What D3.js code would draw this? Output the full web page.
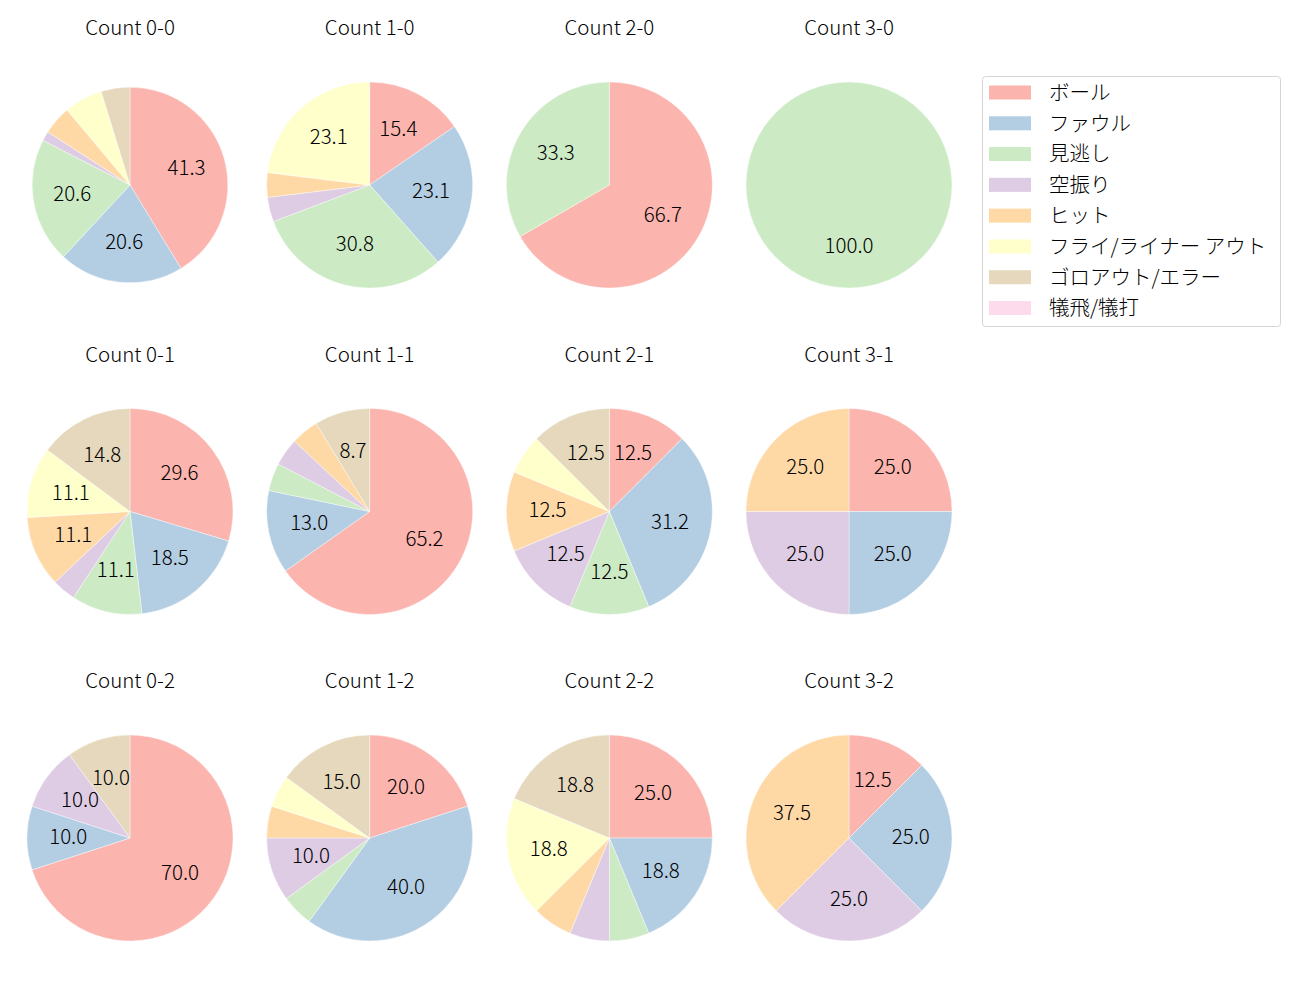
<!DOCTYPE html>
<html>
<head>
<meta charset="utf-8">
<script src="https://cdn.jsdelivr.net/npm/d3@7"></script>
<style>
  html, body { margin: 0; padding: 0; background: #fff; }
  svg { display: block; }
  text { font-family: "Noto Sans CJK JP", "Noto Sans", sans-serif; font-weight: 300; fill: #000; }
</style>
</head>
<body>
<svg id="chart" width="1300" height="1000"></svg>
<script>
// ---- data ----
const categories = ["ボール", "ファウル", "見逃し", "空振り", "ヒット", "フライ/ライナー アウト", "ゴロアウト/エラー", "犠飛/犠打"];
const colors = ["#fbb4ae", "#b3cde3", "#ccebc5", "#decbe4", "#fed9a6", "#ffffcc", "#e5d8bd", "#fddaec"];
const titles = ["Count 0-0", "Count 1-0", "Count 2-0", "Count 3-0",
                "Count 0-1", "Count 1-1", "Count 2-1", "Count 3-1",
                "Count 0-2", "Count 1-2", "Count 2-2", "Count 3-2"];
const count00 = [26, 13, 13, 1, 3, 4, 3, 0];
const count10 = [4, 6, 8, 1, 1, 6, 0, 0];
const count20 = [2, 0, 1, 0, 0, 0, 0, 0];
const count30 = [0, 0, 1, 0, 0, 0, 0, 0];
const count01 = [8, 5, 3, 1, 3, 3, 4, 0];
const count11 = [15, 3, 1, 1, 1, 0, 2, 0];
const count21 = [2, 5, 2, 2, 2, 1, 2, 0];
const count31 = [1, 1, 0, 1, 1, 0, 0, 0];
const count02 = [7, 1, 0, 1, 0, 0, 1, 0];
const count12 = [4, 8, 1, 2, 1, 1, 3, 0];
const count22 = [4, 3, 1, 1, 1, 3, 3, 0];
const count32 = [1, 2, 0, 2, 3, 0, 0, 0];
const panels = [count00, count10, count20, count30,
                count01, count11, count21, count31,
                count02, count12, count22, count32];

// ---- layout ----
const colX = d3.scalePoint().domain([0, 1, 2, 3]).range([130, 849]);
const rowY = d3.scalePoint().domain([0, 1, 2]).range([185, 838]);
const radiusScale = [0.95, 1, 1, 1, 1, 1, 1, 1, 1, 1, 1, 1];
const R = 103;
const FS = 20.5;
const labelThreshold = 7;

// Python-style (round half to even) formatting with one decimal
function fmt(p) {
  const v = p * 10;
  const fl = Math.floor(v);
  const frac = v - fl;
  let r;
  if (Math.abs(frac - 0.5) < 1e-9) r = (fl % 2 === 0) ? fl : fl + 1;
  else r = Math.round(v);
  return (r / 10).toFixed(1);
}

const svg = d3.select("#chart");
const pie = d3.pie().sort(null).value(d => d.v).startAngle(0).endAngle(2 * Math.PI);

panels.forEach((vals, i) => {
  const col = i % 4, row = Math.floor(i / 4);
  const cx = colX(col), cy = rowY(row);
  const r = R * radiusScale[i];
  const total = d3.sum(vals);
  const data = vals.map((v, k) => ({ v, k }));
  const arcs = pie(data).filter(a => a.data.v > 0);
  const arc = d3.arc().innerRadius(0).outerRadius(r);
  const labelArc = d3.arc().innerRadius(r * 0.6).outerRadius(r * 0.6);

  const g = svg.append("g").attr("transform", `translate(${cx},${cy})`);
  g.selectAll("path").data(arcs).join("path")
    .attr("d", arc)
    .attr("fill", d => colors[d.data.k])
    .attr("stroke", "#fff")
    .attr("stroke-width", 0.4);

  g.selectAll("text.pct").data(arcs.filter(a => a.data.v / total * 100 > labelThreshold)).join("text")
    .attr("class", "pct")
    .attr("transform", d => `translate(${labelArc.centroid(d)})`)
    .attr("text-anchor", "middle")
    .attr("dy", "0.28em")
    .attr("font-size", FS)
    .text(d => fmt(d.data.v / total * 100));

  svg.append("text")
    .attr("x", cx).attr("y", cy - 157)
    .attr("text-anchor", "middle")
    .attr("dy", "0.36em")
    .attr("font-size", FS)
    .text(titles[i]);
});

// ---- legend ----
const lg = svg.append("g");
lg.append("rect")
  .attr("x", 982.5).attr("y", 76.5).attr("width", 298).attr("height", 250)
  .attr("rx", 3).attr("ry", 3)
  .attr("fill", "#fff").attr("stroke", "#d5d5d5").attr("stroke-width", 1);
const ly = d3.scaleLinear().domain([0, categories.length - 1]).range([92.5, 308]);
categories.forEach((c, k) => {
  lg.append("rect")
    .attr("x", 989).attr("y", ly(k) - 7).attr("width", 42).attr("height", 14)
    .attr("fill", colors[k]);
  lg.append("text")
    .attr("x", 1049).attr("y", ly(k))
    .attr("dy", "0.36em")
    .attr("font-size", FS)
    .text(c);
});
</script>
</body>
</html>
